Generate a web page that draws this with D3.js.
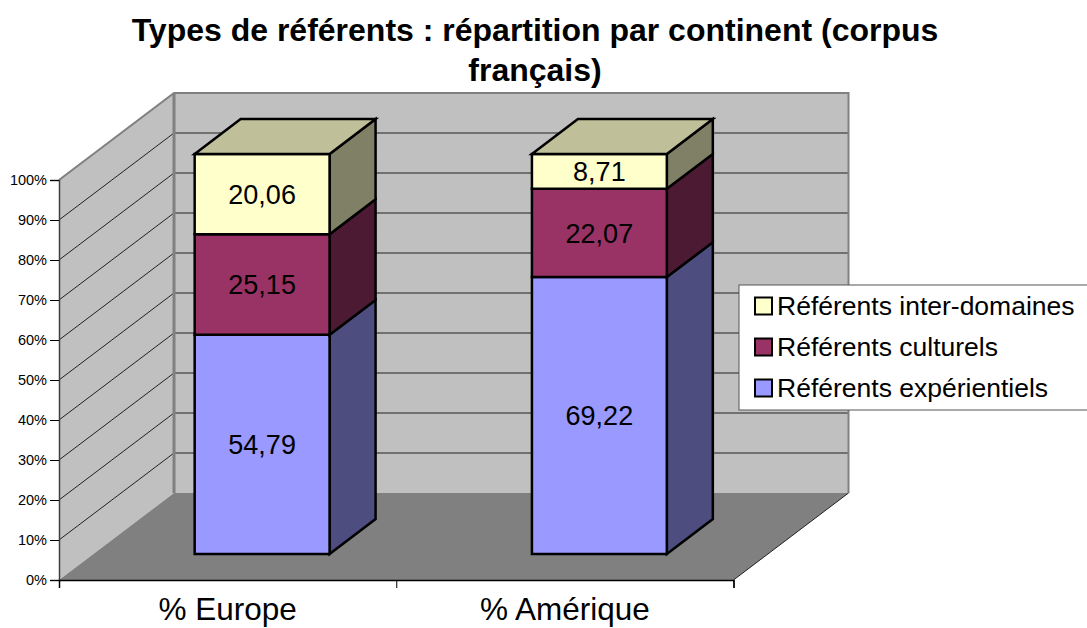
<!DOCTYPE html>
<html>
<head>
<meta charset="utf-8">
<script src="https://cdn.jsdelivr.net/npm/d3@7"></script>
<style>
  html, body { margin: 0; padding: 0; background: #fff; overflow: hidden; }
  text { font-family: "Liberation Sans", Arial, sans-serif; fill: #000; }
</style>
</head>
<body>
<div id="chart"></div>
<script>
// values
const categories = ['% Europe', '% Amérique'];
const seriesNames = ['Référents expérientiels', 'Référents culturels', 'Référents inter-domaines'];
const experientiels = [54.79, 69.22];
const culturels = [25.15, 22.07];
const interDomaines = [20.06, 8.71];
const percentTicks = [0, 10, 20, 30, 40, 50, 60, 70, 80, 90, 100];
const titleLines = ['Types de référents : répartition par continent (corpus', 'français)'];

const frontColors = ['#9999FF', '#993366', '#FFFFCC'];
const sideColors = ['#4D4D80', '#4D1A33', '#808066'];
const topColors = ['#4D4D80', '#4D1A33', '#BFBF99'];

const width = 1087,
      height = 628;

// front plane of the box, and how far the back plane is shifted
const plotLeft = 59,
      plotRight = 733.5,
      plotBottom = 580,
      plotTop = 180,
      depthX = 115,
      depthY = 87;

const svg = d3.select('#chart')
  .append('svg')
  .attr('width', width)
  .attr('height', height);

const x = d3.scaleBand()
  .domain(categories)
  .range([plotLeft, plotRight])
  .paddingInner(0.6)
  .paddingOuter(0.3);

const y = d3.scaleLinear()
  .domain([0, 100])
  .range([plotBottom, plotTop]);

// px, py on the front plane, t = 0 front .. 1 back
const project = (px, py, t) => [px + depthX * t, py - depthY * t];
const poly = pts => pts.map(p => p.join(',')).join(' ');

// stack the three series
const rows = categories.map((c, i) => ({
  category: c,
  [seriesNames[0]]: experientiels[i],
  [seriesNames[1]]: culturels[i],
  [seriesNames[2]]: interDomaines[i]
}));
const stacked = d3.stack().keys(seriesNames)(rows);

// walls and floor
svg.append('polygon')
  .attr('points', poly([[plotLeft, y(0)], [plotLeft, y(100)], project(plotLeft, y(100), 1), project(plotLeft, y(0), 1)]))
  .attr('fill', '#C0C0C0');
svg.append('polygon')
  .attr('points', poly([project(plotLeft, y(0), 1), project(plotLeft, y(100), 1), project(plotRight, y(100), 1), project(plotRight, y(0), 1)]))
  .attr('fill', '#C0C0C0');

// gridlines on both walls
percentTicks.filter(d => d > 0 && d < 100).forEach(d => {
  const a = [plotLeft, y(d)], b = project(plotLeft, y(d), 1), c = project(plotRight, y(d), 1);
  svg.append('polyline')
    .attr('points', poly([a, b, c]))
    .attr('fill', 'none')
    .attr('stroke', '#222')
    .attr('stroke-width', 1);
});

svg.append('polygon')
  .attr('points', poly([[plotLeft, y(0)], [plotRight, y(0)], project(plotRight, y(0), 1), project(plotLeft, y(0), 1)]))
  .attr('fill', '#808080');

// grey edges of the box
svg.append('polyline')
  .attr('points', poly([[plotLeft, y(100)], project(plotLeft, y(100), 1), project(plotRight, y(100), 1), project(plotRight, y(0), 1)]))
  .attr('fill', 'none')
  .attr('stroke', '#808080')
  .attr('stroke-width', 2);
svg.append('line')
  .attr('x1', plotLeft + depthX).attr('x2', plotLeft + depthX)
  .attr('y1', y(100) - depthY).attr('y2', y(0) - depthY)
  .attr('stroke', '#808080')
  .attr('stroke-width', 3);
svg.append('line')
  .attr('x1', plotRight).attr('y1', y(0))
  .attr('x2', plotRight + depthX).attr('y2', y(0) - depthY)
  .attr('stroke', '#222')
  .attr('stroke-width', 1);

// value axis
const yAxis = svg.append('g')
  .attr('transform', 'translate(' + plotLeft + ',0)')
  .call(d3.axisLeft(y).tickValues(percentTicks).tickFormat(d => d + '%').tickSize(9).tickPadding(3));
yAxis.select('.domain').attr('stroke', '#404040').attr('stroke-width', 1.5);
yAxis.selectAll('.tick line').attr('stroke', '#000');
yAxis.selectAll('text').style('font-size', '14.5px').style('font-family', '"Liberation Sans"');

// category axis, ticks sit on the band edges
const edgeScale = d3.scaleLinear().domain([0, categories.length]).range([plotLeft, plotRight]);
const edges = svg.append('g')
  .attr('transform', 'translate(0,' + plotBottom + ')')
  .call(d3.axisBottom(edgeScale).tickValues(d3.range(categories.length + 1)).tickFormat('').tickSize(8));
edges.select('.domain').attr('stroke', '#000').attr('stroke-width', 1.5);

// padding keeps the descenders inside the window
const xAxis = svg.append('g')
  .attr('transform', 'translate(0,' + plotBottom + ')')
  .call(d3.axisBottom(x).tickSize(0).tickPadding(18));
xAxis.select('.domain').remove();
xAxis.selectAll('text').style('font-size', '31.5px').style('font-family', '"Liberation Sans"');

// bars: front t = 0.3, back t = 0.7
const barFront = 0.3, barBack = 0.7;
categories.forEach((c, i) => {
  const x0 = x(c), x1 = x(c) + x.bandwidth();
  const barG = svg.append('g').attr('class', 'bar');
  stacked.forEach((layer, s) => {
    const y0 = y(layer[i][0]), y1 = y(layer[i][1]);
    const fbl = project(x0, y0, barFront), fbr = project(x1, y0, barFront),
          ftl = project(x0, y1, barFront), ftr = project(x1, y1, barFront),
          bbr = project(x1, y0, barBack), btr = project(x1, y1, barBack),
          btl = project(x0, y1, barBack);
    const shape = (pts, fill) => barG.append('polygon')
      .attr('points', poly(pts))
      .attr('fill', fill)
      .attr('stroke', '#000')
      .attr('stroke-width', 2.5)
      .attr('stroke-linejoin', 'miter');
    shape([fbr, bbr, btr, ftr], sideColors[s]);
    shape([fbl, fbr, ftr, ftl], frontColors[s]);
    if (s === stacked.length - 1) shape([ftl, ftr, btr, btl], topColors[s]);
  });
  stacked.forEach((layer, s) => {
    const mid = project((x0 + x1) / 2, y((layer[i][0] + layer[i][1]) / 2), barFront);
    barG.append('text')
      .attr('x', mid[0])
      .attr('y', mid[1] + 1)
      .attr('text-anchor', 'middle')
      .attr('dominant-baseline', 'central')
      .style('font-size', '27px')
      .text(String(rows[i][seriesNames[s]]).replace('.', ','));
  });
});

// title
svg.append('g').selectAll('text')
  .data(titleLines)
  .join('text')
  .attr('x', 535)
  .attr('y', (d, i) => 41 + i * 40)
  .attr('text-anchor', 'middle')
  .style('font-size', '32px')
  .style('font-weight', 'bold')
  .text(d => d);

// legend, runs off the right edge
const legend = svg.append('g');
legend.append('rect')
  .attr('x', 739)
  .attr('y', 285)
  .attr('width', 360)
  .attr('height', 125)
  .attr('fill', '#fff')
  .attr('stroke', '#555')
  .attr('stroke-width', 1);
const legendOrder = d3.range(seriesNames.length).reverse();
const legendY = d3.scalePoint().domain(legendOrder).range([306, 388]);
legendOrder.forEach(s => {
  legend.append('rect')
    .attr('x', 755)
    .attr('y', legendY(s) - 8.5)
    .attr('width', 17)
    .attr('height', 17)
    .attr('fill', frontColors[s])
    .attr('stroke', '#000')
    .attr('stroke-width', 2);
  legend.append('text')
    .attr('x', 777)
    .attr('y', legendY(s) + 9)
    .style('font-size', '26.5px')
    .text(seriesNames[s]);
});
</script>
</body>
</html>
